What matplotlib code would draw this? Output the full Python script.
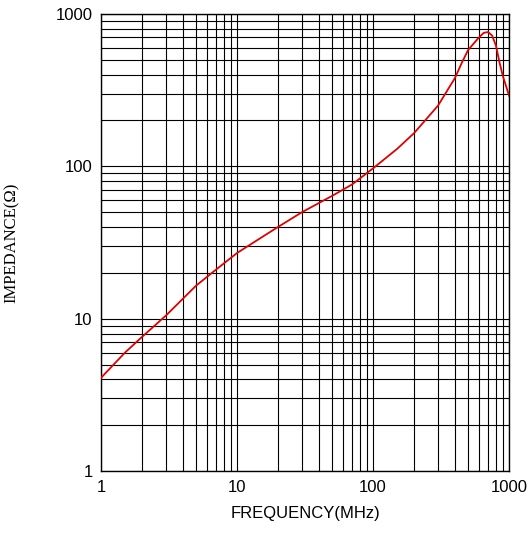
import matplotlib

matplotlib.use("Agg")
import matplotlib.pyplot as plt  # noqa: E402
from matplotlib.ticker import LogLocator, NullFormatter, FixedLocator  # noqa: E402

freq_mhz = [1, 1.5, 2, 3, 5, 7, 10, 15, 20, 30, 50, 70, 100, 150, 200, 300,
            400, 450, 500, 550, 600, 650, 700, 750, 800, 850, 900, 1000]
impedance = [4.1, 6.0, 7.6, 10.5, 16.5, 21, 27, 34, 40, 50, 64, 76, 97, 130,
             165, 250, 380, 480, 580, 640, 700, 750, 760, 720, 620, 480, 390, 290]

fig = plt.figure(figsize=(5.32, 5.33), dpi=100)
ax = fig.add_axes([0.19, 0.116, 0.767, 0.858])
ax.set_xscale("log")
ax.set_yscale("log")
ax.set_xlim(1, 1000)
ax.set_ylim(1, 1000)

ax.plot(freq_mhz, impedance, color="#e00000", lw=1.3, zorder=3)

major = [1, 10, 100, 1000]
ax.xaxis.set_major_locator(FixedLocator(major))
ax.yaxis.set_major_locator(FixedLocator(major))
ax.set_xticklabels(["1", "10", "100", "1000"])
ax.set_yticklabels(["1", "10", "100", "1000"])
for axis in (ax.xaxis, ax.yaxis):
    axis.set_minor_locator(LogLocator(base=10, subs=range(2, 10)))
    axis.set_minor_formatter(NullFormatter())
ax.grid(True, which="both", color="black", lw=0.8)
ax.tick_params(which="both", length=0, labelsize=12, pad=6)
for lab in ax.get_xticklabels() + ax.get_yticklabels():
    lab.set_family("Liberation Sans")
for s in ax.spines.values():
    s.set_linewidth(1.0)

ax.set_xlabel("FREQUENCY(MHz)", family="Liberation Sans", fontsize=12, labelpad=8)
ax.set_ylabel("IMPEDANCE(Ω)", family="Liberation Serif", fontsize=12, labelpad=26)

fig.savefig("out.png", dpi=100)
